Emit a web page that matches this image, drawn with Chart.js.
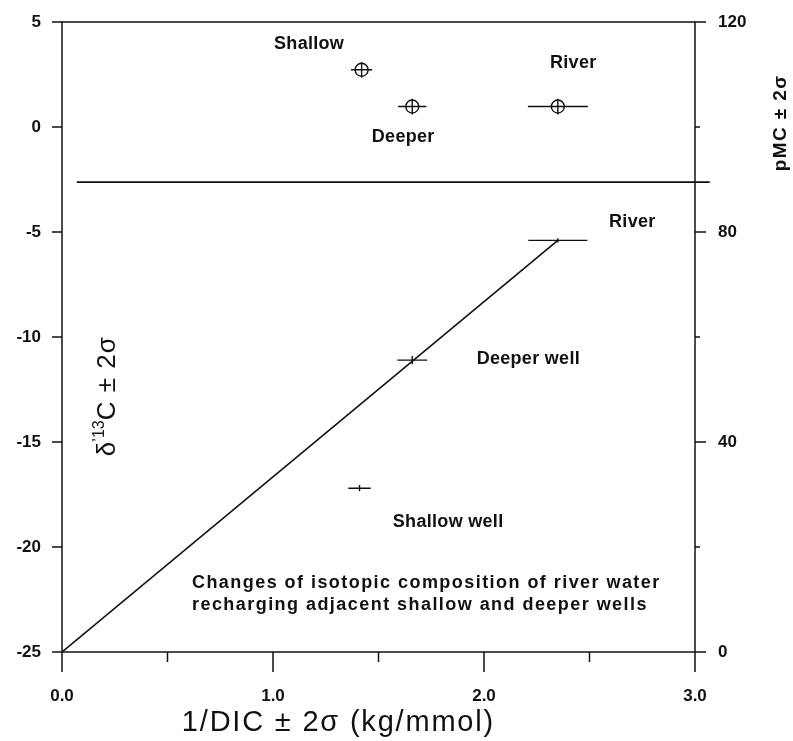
<!DOCTYPE html>
<html>
<head>
<meta charset="utf-8">
<script src="https://cdn.jsdelivr.net/npm/chart.js@4.4.1/dist/chart.umd.min.js"></script>
<style>
  html, body { margin: 0; background: #fff; }
  #wrap { width: 793px; height: 741px; }
</style>
</head>
<body>
<div id="wrap"><canvas id="isoChart"></canvas></div>
<script>
// upper panel: pMC against 1/DIC (circles with crosses)
const dicTop = [1.42, 1.66, 2.35];
const dicTopErr = [0.05, 0.067, 0.142];
const pmcTop = [110.9, 103.9, 103.9];
const pmcTopErr = [1.5, 1.5, 1.5];

// lower panel: d13C against 1/DIC
const dicLow = [1.41, 1.66, 2.35];
const dicLowErr = [0.053, 0.071, 0.14];
const d13cLow = [-17.2, -11.1, -5.4];
const d13cLowErr = [0.15, 0.2, 0.1];

// mixing line from the origin to the river
const mixX = [0, 2.35];
const mixY = [-25, -5.4];

// line that separates the two panels (pMC)
const dividerX = [0.07, 3.07];
const dividerPMC = 89.5;

// ticks
const xMajor = [0, 1, 2, 3];
const xMinor = [0.5, 1.5, 2.5];
const yMajor = [-25, -20, -15, -10, -5, 0, 5];
const y1Major = [0, 40, 80, 120];
const y1Minor = [20, 60, 100];

// text labels (placed in data units: 1/DIC, d13C)
const labelText = ['Shallow', 'Deeper', 'River', 'River', 'Deeper well', 'Shallow well'];
const labelAt = [[1.171, 3.94], [1.617, -0.49], [2.423, 3.03], [2.703, -4.54], [2.21, -11.06], [1.83, -18.82]];
const noteLines = ['Changes of isotopic composition of river water', 'recharging adjacent shallow and deeper wells'];
const noteAt = [[0.616, -21.73], [0.616, -22.78]];

const INK = '#111';
const FONT = '"Liberation Sans", Arial, sans-serif';

function toPoints(xs, ys) {
    return xs.map((x, i) => ({ x: x, y: ys[i] }));
}

function putText(ctx, txt, x, y, font, align, spacing) {
    ctx.save();
    ctx.font = font;
    ctx.letterSpacing = spacing || '0px';
    ctx.fillStyle = INK;
    ctx.textAlign = align || 'center';
    ctx.textBaseline = 'middle';
    ctx.fillText(txt, x, y);
    ctx.restore();
}

// draw pieces of text (for superscripts) centred on x
function putRich(ctx, pieces, cx, cy) {
    let total = 0;
    pieces.forEach(p => { ctx.font = p.font; ctx.letterSpacing = p.sp || '0px'; p.w = ctx.measureText(p.t).width; total += p.w; });
    let x = cx - total / 2;
    pieces.forEach(p => {
        ctx.font = p.font;
        ctx.letterSpacing = p.sp || '0px';
        ctx.fillStyle = INK;
        ctx.textAlign = 'left';
        ctx.textBaseline = 'middle';
        ctx.fillText(p.t, x, cy + (p.dy || 0));
        x += p.w;
    });
}

// error bars through the scales
const errorBars = {
    id: 'errorBars',
    afterDatasetsDraw(chart) {
        const ctx = chart.ctx;
        const sx = chart.scales.x;
        ctx.save();
        ctx.strokeStyle = INK;
        ctx.lineWidth = 1.4;
        chart.data.datasets.forEach(ds => {
            if (!ds.errX) return;
            const sy = chart.scales[ds.yAxisID];
            ds.data.forEach((p, i) => {
                const px = sx.getPixelForValue(p.x);
                const py = sy.getPixelForValue(p.y);
                ctx.beginPath();
                ctx.moveTo(sx.getPixelForValue(p.x - ds.errX[i]), py);
                ctx.lineTo(sx.getPixelForValue(p.x + ds.errX[i]), py);
                ctx.moveTo(px, sy.getPixelForValue(p.y - ds.errY[i]));
                ctx.lineTo(px, sy.getPixelForValue(p.y + ds.errY[i]));
                ctx.stroke();
            });
        });
        ctx.restore();
    }
};

// frame, tick marks, titles, labels
const frame = {
    id: 'frame',
    afterDraw(chart) {
        const ctx = chart.ctx;
        const a = chart.chartArea;
        const sx = chart.scales.x, sy = chart.scales.y, sy1 = chart.scales.y1;
        ctx.save();
        ctx.strokeStyle = INK;
        ctx.lineWidth = 1.5;
        ctx.strokeRect(a.left, a.top, a.right - a.left, a.bottom - a.top);
        ctx.beginPath();
        xMajor.forEach(v => { const p = sx.getPixelForValue(v); ctx.moveTo(p, a.bottom); ctx.lineTo(p, a.bottom + 20); });
        xMinor.forEach(v => { const p = sx.getPixelForValue(v); ctx.moveTo(p, a.bottom); ctx.lineTo(p, a.bottom + 10); });
        yMajor.forEach(v => { const p = sy.getPixelForValue(v); ctx.moveTo(a.left - 10, p); ctx.lineTo(a.left, p); });
        y1Major.forEach(v => { const p = sy1.getPixelForValue(v); ctx.moveTo(a.right, p); ctx.lineTo(a.right + 11, p); });
        y1Minor.forEach(v => { const p = sy1.getPixelForValue(v); ctx.moveTo(a.right, p); ctx.lineTo(a.right + 5, p); });
        ctx.stroke();

        const lblFont = 'bold 18px ' + FONT;
        labelText.forEach((t, i) => {
            putText(ctx, t, sx.getPixelForValue(labelAt[i][0]), sy.getPixelForValue(labelAt[i][1]), lblFont, 'center', '0.3px');
        });
        noteLines.forEach((t, i) => {
            putText(ctx, t, sx.getPixelForValue(noteAt[i][0]), sy.getPixelForValue(noteAt[i][1]), 'bold 18px ' + FONT, 'left', '1.45px');
        });

        // x title
        putText(ctx, '1/DIC \u00b1 2\u03c3 (kg/mmol)', sx.getPixelForValue(1.31), a.bottom + 71, '29px ' + FONT, 'center', '1.8px');

        // left title inside the plot
        ctx.save();
        ctx.translate(sx.getPixelForValue(0.216), sy.getPixelForValue(-12.82));
        ctx.rotate(-Math.PI / 2);
        putRich(ctx, [
            { t: '\u03b4', font: '26px ' + FONT },
            { t: '\u2019', font: '16px ' + FONT, dy: -8 },
            { t: '13', font: '16px ' + FONT, dy: -8 },
            { t: 'C \u00b1 2\u03c3', font: '26px ' + FONT, sp: '1px' }
        ], 0, 0);
        ctx.restore();

        // right title
        ctx.save();
        ctx.translate(a.right + 86, sy1.getPixelForValue(100.8));
        ctx.rotate(-Math.PI / 2);
        putRich(ctx, [{ t: 'pMC \u00b1 2\u03c3', font: 'bold 19px ' + FONT, sp: '1.4px' }], 0, 0);
        ctx.restore();
        ctx.restore();
    }
};

const tickFont = { family: FONT, size: 17, weight: 'bold' };

function fixWidth(w) {
    return s => { s.width = w; s.paddingTop = 0; s.paddingBottom = 0; };
}

const chartConfig = {
    type: 'scatter',
    data: {
        datasets: [
            {
                type: 'line',
                label: 'mixing',
                data: toPoints(mixX, mixY),
                yAxisID: 'y',
                borderColor: INK,
                borderWidth: 1.6,
                pointRadius: 0,
                fill: false
            },
            {
                type: 'line',
                label: 'divider',
                data: toPoints(dividerX, [dividerPMC, dividerPMC]),
                yAxisID: 'y1',
                borderColor: INK,
                borderWidth: 1.6,
                pointRadius: 0,
                clip: false,
                fill: false
            },
            {
                label: 'pMC',
                data: toPoints(dicTop, pmcTop),
                yAxisID: 'y1',
                errX: dicTopErr,
                errY: pmcTopErr,
                pointStyle: 'circle',
                pointRadius: 6.5,
                pointBorderWidth: 1.4,
                borderColor: INK,
                backgroundColor: 'rgba(0,0,0,0)'
            },
            {
                label: 'd13C',
                data: toPoints(dicLow, d13cLow),
                yAxisID: 'y',
                errX: dicLowErr,
                errY: d13cLowErr,
                pointRadius: 0,
                borderColor: INK
            }
        ]
    },
    options: {
        responsive: true,
        maintainAspectRatio: false,
        animation: false,
        layout: { padding: { top: 22, right: 0, left: 0, bottom: 0 } },
        plugins: { legend: { display: false }, tooltip: { enabled: false } },
        scales: {
            x: {
                type: 'linear',
                min: 0, max: 3,
                afterFit: s => { s.height = 89; s.paddingLeft = 0; s.paddingRight = 0; },
                grid: { display: false, drawTicks: false },
                border: { display: false },
                ticks: { stepSize: 1, padding: 34, color: INK, font: tickFont, callback: v => Number(v).toFixed(1) }
            },
            y: {
                type: 'linear',
                position: 'left',
                min: -25, max: 5,
                afterFit: fixWidth(62),
                grid: { display: false, drawTicks: false },
                border: { display: false },
                ticks: { stepSize: 5, padding: 21, color: INK, font: tickFont }
            },
            y1: {
                type: 'linear',
                position: 'right',
                min: 0, max: 120,
                afterFit: fixWidth(98),
                grid: { display: false, drawTicks: false },
                border: { display: false },
                ticks: { stepSize: 40, padding: 23, color: INK, font: tickFont }
            }
        }
    },
    plugins: [errorBars, frame]
};

const isoChart = new Chart(document.getElementById('isoChart'), chartConfig);
</script>
</body>
</html>
